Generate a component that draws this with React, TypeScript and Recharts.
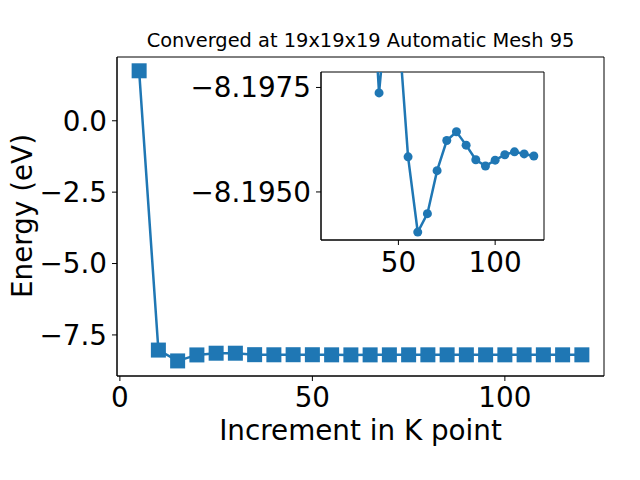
import React from 'react';
import { LineChart, Line, XAxis, YAxis, ReferenceArea } from 'recharts';

// k-point increments and total energy (eV)
const kPoints = [5, 10, 15, 20, 25, 30, 35, 40, 45, 50, 55, 60, 65, 70, 75, 80, 85, 90, 95, 100, 105, 110, 115, 120];
const energy = [
    1.75, -8.03, -8.41, -8.2, -8.14, -8.14, -8.1913, -8.19513, -8.1926, -8.1935, -8.19666, -8.19846,
    -8.19802, -8.19699, -8.19627, -8.19606, -8.19638, -8.19673, -8.19688, -8.19674, -8.19661, -8.19654,
    -8.19659, -8.19664,
];

const mainXTicks = [0, 50, 100];
const mainYTicks = [0, -2.5, -5, -7.5];
const insetXTicks = [50, 100];
const insetYTicks = [-8.195, -8.1975];
// labels as printed on the inset axis (top, bottom)
const insetYLabels = ['\u22128.1975', '\u22128.1950'];
const insetFrom = 35;

const title = 'Converged at 19x19x19 Automatic Mesh 95';
const xLabel = 'Increment in K point';
const yLabel = 'Energy (eV)';

const BLUE = '#1f77b4';
const FONT = 'DejaVu Sans';

const data = kPoints.map((k, i) => ({ k, e: energy[i] }));
const insetData = data.filter(d => d.k >= insetFrom);

const minus = (s: string) => s.replace('-', '\u2212');

const SquareDot = (props: any) => {
    const { cx, cy, index } = props;
    if (cx == null || cy == null) return <g key={`sq-${index}`} />;
    return <rect key={`sq-${index}`} x={cx - 7.5} y={cy - 7.5} width={15} height={15} fill={BLUE} />;
};

const tickStyle = { fontSize: 27.8, fill: '#000', fontFamily: FONT };

const App: React.FC = () => {
    return (
        <div style={{ position: 'absolute', left: 0, top: 0, width: 640, height: 480, background: '#fff' }}>
            <div style={{ position: 'absolute', left: 0, top: 0 }}>
                <LineChart width={640} height={480} data={data} margin={{ top: 57, right: 36, bottom: 74, left: 57 }}>
                    <XAxis
                        dataKey="k"
                        type="number"
                        domain={[-0.75, 125.75]}
                        ticks={mainXTicks}
                        height={30}
                        tickSize={5}
                        tickMargin={6}
                        stroke="#000"
                        tick={tickStyle}
                    />
                    <YAxis
                        dataKey="e"
                        type="number"
                        domain={[-8.938, 2.233]}
                        ticks={mainYTicks}
                        width={60}
                        tickSize={5}
                        tickMargin={5}
                        stroke="#000"
                        tick={tickStyle}
                        tickFormatter={(v: number) => minus(v.toFixed(1))}
                    />
                    <ReferenceArea x1={-0.75} x2={125.75} y1={-8.938} y2={2.233} fill="none" stroke="#000" strokeWidth={1} />
                    <Line
                        dataKey="e"
                        stroke={BLUE}
                        strokeWidth={2.5}
                        dot={SquareDot}
                        activeDot={false}
                        isAnimationActive={false}
                    />
                </LineChart>
            </div>
            <div style={{ position: 'absolute', left: 0, top: 0 }}>
                <LineChart width={640} height={480} data={insetData} margin={{ top: 72, right: 96, bottom: 200, left: 171 }}>
                    <XAxis
                        dataKey="k"
                        type="number"
                        domain={[10, 125.25]}
                        ticks={insetXTicks}
                        allowDataOverflow
                        height={40}
                        tickSize={5}
                        tickMargin={7}
                        stroke="#000"
                        tick={tickStyle}
                    />
                    <YAxis
                        dataKey="e"
                        type="number"
                        domain={[-8.19865, -8.19463]}
                        ticks={insetYTicks}
                        allowDataOverflow
                        width={150}
                        tickSize={5}
                        tickMargin={5}
                        stroke="#000"
                        tick={tickStyle}
                        tickFormatter={(v: number) => (v > -8.196 ? insetYLabels[0] : insetYLabels[1])}
                    />
                    <ReferenceArea x1={10} x2={125.25} y1={-8.19865} y2={-8.19463} fill="none" stroke="#000" strokeWidth={1} />
                    <Line
                        dataKey="e"
                        stroke={BLUE}
                        strokeWidth={2.5}
                        dot={{ r: 4.5, fill: BLUE, stroke: BLUE, strokeWidth: 0 }}
                        activeDot={false}
                        isAnimationActive={false}
                    />
                </LineChart>
            </div>
            <svg width={640} height={480} style={{ position: 'absolute', left: 0, top: 0, pointerEvents: 'none' }}>
                <text x={360.5} y={47} textAnchor="middle" fontSize={19.4} fontFamily={FONT} fill="#000">{title}</text>
                <text x={360.5} y={440} textAnchor="middle" fontSize={27.8} fontFamily={FONT} fill="#000">{xLabel}</text>
                <text transform="translate(31.5,216) rotate(-90)" textAnchor="middle" fontSize={27.8} fontFamily={FONT} fill="#000">{yLabel}</text>
            </svg>
        </div>
    );
};

export default App;
